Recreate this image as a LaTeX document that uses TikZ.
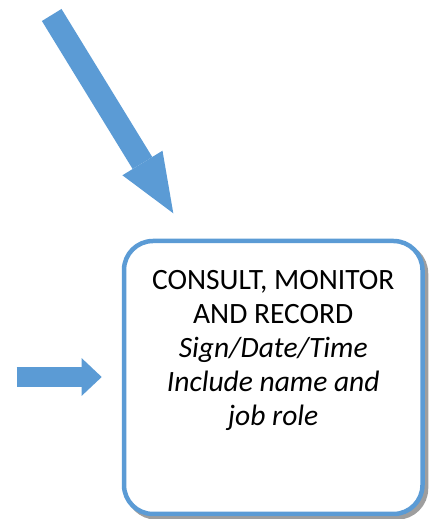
\documentclass[tikz,border=0pt]{standalone}
\usepackage{fontspec}
\setmainfont{Carlito}
\usepackage{tikz}
\usetikzlibrary{arrows.meta,shadows,positioning}
\definecolor{officeblue}{HTML}{5B9BD5}

\begin{document}
\begin{tikzpicture}[x=1pt, y=1pt,
	recbox/.style={draw=officeblue, line width=4.5pt, fill=white, rounded corners=29pt,
		minimum width=298.5pt, minimum height=273pt, inner sep=0pt,
		drop shadow={shadow xshift=3.5pt, shadow yshift=-3.5pt, fill=black!38, draw=black!38,
			line width=4.5pt, opacity=1}},
	rectext/.style={align=center, inner sep=0pt, font={\fontsize{29.5}{34}\selectfont}},
	bigarrow/.style={officeblue, line width=#1}]
	\useasboundingbox (0,0) rectangle (430,519);

	\node[recbox] (rec) at (273.25,141.5) {};
	\node[rectext, below=31.5pt of rec.north] (rectxt) {CONSULT, MONITOR\\AND RECORD\\
		\textit{Sign/Date/Time}\\\textit{Include name and}\\\textit{job role}};

	\coordinate (toptail) at (51.7,504); \coordinate (toptip) at (173.3,305.7);
	\coordinate (lefttail) at (16.7,142); \coordinate (lefttip) at (101.7,142);

	\draw[bigarrow=23pt, -{Triangle[length=59pt, width=47pt, line width=0pt]}] (toptail) -- (toptip);
	\draw[bigarrow=19.4pt, -{Triangle[length=20pt, width=37.7pt, line width=0pt]}] (lefttail) -- (lefttip);
\end{tikzpicture}
\end{document}
